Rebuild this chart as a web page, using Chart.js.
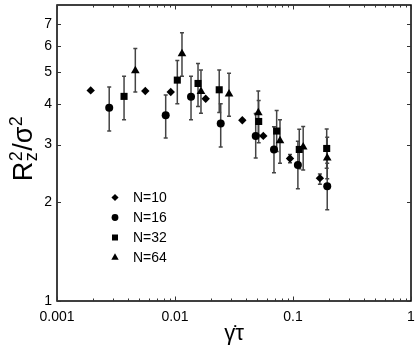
<!DOCTYPE html>
<html><head><meta charset="utf-8">
<script src="https://cdn.jsdelivr.net/npm/chart.js@4/dist/chart.umd.min.js"></script>
<style>html,body{margin:0;padding:0;background:#fff}#wrap{width:416px;height:347px;position:relative}</style>
</head><body><div id="wrap"><canvas id="c" width="416" height="347"></canvas></div>
<script>
// ---- data ----
const seriesLabels = ['N=10', 'N=16', 'N=32', 'N=64'];

const n10X  = [0.00193, 0.0056, 0.0092, 0.0182, 0.0372, 0.056, 0.0943, 0.169];
const n10Y  = [4.39, 4.37, 4.34, 4.14, 3.56, 3.19, 2.72, 2.37];
const n10Lo = [null, null, null, null, null, null, 2.64, 2.27];
const n10Hi = [null, null, null, null, null, null, 2.80, 2.44];

const n16X  = [0.00277, 0.00834, 0.01367, 0.0244, 0.0483, 0.069, 0.110, 0.195];
const n16Y  = [3.89, 3.69, 4.20, 3.48, 3.19, 2.90, 2.60, 2.24];
const n16Lo = [3.30, 3.14, 3.57, 2.95, 2.73, 2.46, 2.20, 1.90];
const n16Hi = [4.50, 4.25, 4.85, 4.00, 3.73, 3.40, 3.07, 2.63];

const n32X  = [0.0037, 0.01046, 0.01567, 0.0237, 0.0512, 0.0727, 0.113, 0.193];
const n32Y  = [4.21, 4.72, 4.61, 4.41, 3.53, 3.30, 2.90, 2.92];
const n32Lo = [3.57, 4.00, 3.92, 3.76, 3.04, 2.86, 2.53, 2.54];
const n32Hi = [4.85, 5.42, 5.30, 5.07, 4.09, 3.81, 3.34, 3.35];

const n64X  = [0.00461, 0.01146, 0.0166, 0.0287, 0.0508, 0.0776, 0.122, 0.195];
const n64Y  = [5.04, 5.68, 4.36, 4.28, 3.75, 3.08, 2.95, 2.73];
const n64Lo = [4.34, 4.85, 3.74, 3.66, 3.21, 2.63, 2.51, 2.36];
const n64Hi = [5.89, 6.58, 5.07, 4.95, 4.37, 3.57, 3.41, 3.16];

const xTickValues = [0.001, 0.01, 0.1, 1];
const xTickLabels = ['0.001', '0.01', '0.1', '1'];
const yTickValues = [1, 2, 3, 4, 5, 6, 7];
const yTickLabels = ['1', '2', '3', '4', '5', '6', '7'];

// ---- build ----
function pts(xs, ys) { return xs.map((x, i) => ({ x: x, y: ys[i] })); }
const styles = ['rectRot', 'circle', 'rect', 'triangle'];
const radii = [4.2, 4.0, 5.0, 5.0];
const xsAll = [n10X, n16X, n32X, n64X];
const ysAll = [n10Y, n16Y, n32Y, n64Y];
const losAll = [n10Lo, n16Lo, n32Lo, n64Lo];
const hisAll = [n10Hi, n16Hi, n32Hi, n64Hi];

const datasets = seriesLabels.map((lab, i) => ({
  label: lab,
  data: pts(xsAll[i], ysAll[i]),
  errLo: losAll[i],
  errHi: hisAll[i],
  pointStyle: styles[i],
  pointRadius: radii[i],
  pointBackgroundColor: '#000',
  pointBorderColor: '#000',
  pointBorderWidth: 0,
  showLine: false
}));

const FONT = "'Liberation Sans', Arial, Helvetica, sans-serif";

function drawShape(ctx, style, x, y, r) {
  ctx.beginPath();
  if (style === 'circle') {
    ctx.arc(x, y, r, 0, Math.PI * 2);
  } else if (style === 'rect') {
    const s = r / Math.SQRT2;
    ctx.rect(x - s, y - s, 2 * s, 2 * s);
  } else if (style === 'rectRot') {
    ctx.moveTo(x, y - r); ctx.lineTo(x + r, y); ctx.lineTo(x, y + r); ctx.lineTo(x - r, y); ctx.closePath();
  } else if (style === 'triangle') {
    const a = Math.PI / 6;
    ctx.moveTo(x, y - r);
    ctx.lineTo(x + Math.cos(a) * r, y + Math.sin(a) * r);
    ctx.lineTo(x - Math.cos(a) * r, y + Math.sin(a) * r);
    ctx.closePath();
  }
  ctx.fill();
}

const errorBars = {
  id: 'errorBars',
  beforeDatasetsDraw(chart) {
    const ctx = chart.ctx, xs = chart.scales.x, ys = chart.scales.y;
    ctx.save();
    ctx.strokeStyle = '#444';
    ctx.lineWidth = 1.5;
    chart.data.datasets.forEach((ds) => {
      ds.data.forEach((p, j) => {
        const lo = ds.errLo[j], hi = ds.errHi[j];
        if (lo == null || hi == null) return;
        const px = xs.getPixelForValue(p.x);
        const pl = ys.getPixelForValue(lo), ph = ys.getPixelForValue(hi);
        ctx.beginPath();
        ctx.moveTo(px, pl); ctx.lineTo(px, ph);
        ctx.moveTo(px - 2, pl); ctx.lineTo(px + 2, pl);
        ctx.moveTo(px - 2, ph); ctx.lineTo(px + 2, ph);
        ctx.stroke();
      });
    });
    ctx.restore();
  }
};

const frame = {
  id: 'frame',
  afterDraw(chart) {
    const ctx = chart.ctx, a = chart.chartArea, xs = chart.scales.x, ys = chart.scales.y;
    ctx.save();
    ctx.strokeStyle = '#000';
    ctx.lineWidth = 1.5;
    ctx.strokeRect(a.left, a.top, a.right - a.left, a.bottom - a.top);
    ctx.lineWidth = 1;
    ctx.strokeStyle = '#333';
    ctx.beginPath();
    for (let d = 0; d < xTickValues.length; d++) {
      const dec = xTickValues[d];
      for (let m = 1; m <= 9; m++) {
        const v = dec * m;
        if (v > xs.max * 1.0001) break;
        const px = Math.round(xs.getPixelForValue(v)) + 0.5;
        const len = m === 1 ? 4.5 : 2.5;
        ctx.moveTo(px, a.bottom); ctx.lineTo(px, a.bottom - len);
        ctx.moveTo(px, a.top); ctx.lineTo(px, a.top + len);
      }
    }
    yTickValues.forEach(v => {
      const py = Math.round(ys.getPixelForValue(v)) + 0.5;
      ctx.moveTo(a.left, py); ctx.lineTo(a.left + 4, py);
      ctx.moveTo(a.right, py); ctx.lineTo(a.right - 4, py);
    });
    ctx.stroke();

    // legend
    ctx.fillStyle = '#000';
    ctx.font = '14px ' + FONT;
    ctx.textBaseline = 'middle';
    ctx.textAlign = 'left';
    const lx = a.left + 58, ly = a.top + 192.5;
    chart.data.datasets.forEach((ds, i) => {
      const y = ly + i * 20;
      drawShape(ctx, ds.pointStyle, lx, y, ds.pointRadius * 0.85);
      ctx.fillText(ds.label, lx + 18, y + 0.5);
    });

    // y title: R^2_z / sigma^2
    ctx.save();
    ctx.translate(32, 149);
    ctx.rotate(-Math.PI / 2);
    ctx.textBaseline = 'alphabetic';
    ctx.textAlign = 'left';
    const big = 27, small = 18;
    ctx.font = big + 'px ' + FONT;
    const wR = ctx.measureText('R').width;
    const wS = ctx.measureText('/σ').width;
    const totalW = wR + 11 + wS + 10;
    let x0 = -totalW / 2;
    ctx.fillText('R', x0, 0);
    ctx.font = small + 'px ' + FONT;
    ctx.fillText('2', x0 + wR + 0.5, -10);
    ctx.fillText('z', x0 + wR + 0.5, 5);
    x0 += wR + 11;
    ctx.font = big + 'px ' + FONT;
    ctx.fillText('/σ', x0, 0);
    x0 += wS;
    ctx.font = small + 'px ' + FONT;
    ctx.fillText('2', x0 + 0.5, -10);
    ctx.restore();
    ctx.restore();
  }
};

new Chart(document.getElementById('c'), {
  type: 'scatter',
  data: { datasets: datasets },
  options: {
    responsive: false,
    animation: false,
    devicePixelRatio: 1,
    layout: { padding: { top: 1, right: 4, left: 0, bottom: 0 } },
    plugins: { legend: { display: false }, tooltip: { enabled: false } },
    scales: {
      x: {
        type: 'logarithmic', min: 0.001, max: 1, position: 'bottom',
        grid: { display: false, drawTicks: false },
        border: { display: false },
        afterBuildTicks: (s) => { s.ticks = xTickValues.map(v => ({ value: v })); },
        afterFit: (s) => { s.height = 46; s.paddingLeft = 0; s.paddingRight = 0; },
        ticks: {
          autoSkip: false, maxRotation: 0, padding: 8, color: '#000',
          font: { size: 14, family: FONT },
          callback: (v) => { const i = xTickValues.findIndex(t => Math.abs(t - v) / t < 1e-6); return i >= 0 ? xTickLabels[i] : ''; }
        },
        title: { display: true, text: 'γ̇τ', color: '#000', font: { size: 22, family: FONT }, padding: { top: 0, bottom: 0 } }
      },
      y: {
        type: 'logarithmic', min: 1, max: 8,
        grid: { display: false, drawTicks: false },
        border: { display: false },
        afterBuildTicks: (s) => { s.ticks = yTickValues.map(v => ({ value: v })); },
        afterFit: (s) => { s.width = 57; s.paddingTop = 0; s.paddingBottom = 0; },
        ticks: {
          autoSkip: false, padding: 5, color: '#000',
          font: { size: 14, family: FONT },
          callback: (v) => { const i = yTickValues.indexOf(Math.round(v)); return i >= 0 ? yTickLabels[i] : ''; }
        }
      }
    }
  },
  plugins: [errorBars, frame]
});
</script>
</body></html>
